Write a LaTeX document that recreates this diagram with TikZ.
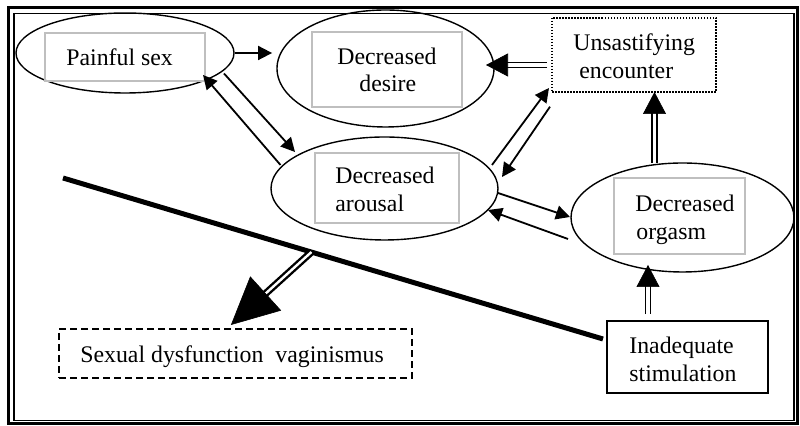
\documentclass[tikz,border=0pt]{standalone}
\usepackage{fontspec}
\setmainfont{Liberation Serif}
\usetikzlibrary{arrows.meta,calc,shapes.geometric}
\begin{document}
\begin{tikzpicture}[x=0.5pt,y=-0.5pt,
  ell/.style={ellipse, draw, line width=0.7pt, inner sep=0pt},
  grayb/.style={rectangle, draw=black!25, line width=0.6pt, inner sep=0pt},
  txt/.style={anchor=base west, inner sep=0pt, font=\fontsize{11.9}{14}\selectfont},
  sarrow/.style={line width=0.9pt, -{Triangle[length=7pt,width=7pt]}},
  dshaft/.style={double, line width=0.75pt, double distance=1.75pt, shorten >=9.5pt},
  dtip/.style={white, line width=0.3pt, -{Triangle[length=11pt,width=11.5pt,color=black]}},
  bshaft/.style={double, line width=1.2pt, double distance=1.2pt, shorten >=21pt},
  btip/.style={white, line width=0.3pt, -{Triangle[length=23.5pt,width=23pt,color=black]}}
]
\useasboundingbox (0,0) rectangle (800,426);
% frame
\draw[line width=1.5pt] (8.8,7.3) rectangle (797.3,424);
\draw[line width=0.7pt] (14,13.3) rectangle (794,420.5);

% ellipses
\node[ell, minimum width=109pt, minimum height=40pt] (ps) at (125,53) {};
\node[ell, minimum width=108.5pt, minimum height=58.5pt] (de) at (385.5,68.5) {};
\node[ell, minimum width=113.5pt, minimum height=51.5pt] (ar) at (384.5,188.5) {};
\node[ell, minimum width=111.5pt, minimum height=54.5pt] (or) at (682.5,217.5) {};

% gray inner boxes
\node[grayb, minimum width=80pt, minimum height=24pt] (gps) at (125,57) {};
\node[grayb, minimum width=75pt, minimum height=37.5pt] (gde) at (387,69.5) {};
\node[grayb, minimum width=72pt, minimum height=35pt] (gar) at (387,188) {};
\node[grayb, minimum width=65.5pt, minimum height=38pt] (gor) at (679.5,216) {};

% boxes
\node[rectangle, draw, line width=0.75pt, dash pattern=on 0.75pt off 0.75pt, inner sep=0pt,
      minimum width=82pt, minimum height=37pt] (en) at (634,55) {};
\node[rectangle, draw, line width=0.8pt, inner sep=0pt,
      minimum width=80.5pt, minimum height=36pt] (in) at (687.5,357) {};
\node[rectangle, draw, line width=1pt, dash pattern=on 3.5pt off 2pt, inner sep=0pt,
      minimum width=176.5pt, minimum height=24.5pt] (sd) at (235.5,353.5) {};

% texts
\node[txt] (tps) at (66,65.5) {Painful sex};
\node[txt] (tde1) at (337,65) {Decreased};
\node[txt] (tde2) at (359,92) {desire};
\node[txt] (ten1) at (573,50.5) {Unsastifying};
\node[txt] (ten2) at (579,79) {encounter};
\node[txt] (tar1) at (335,184) {Decreased};
\node[txt] (tar2) at (335,212) {arousal};
\node[txt] (tor1) at (635,212) {Decreased};
\node[txt] (tor2) at (636,240) {orgasm};
\node[txt] (tin1) at (629,354) {Inadequate};
\node[txt] (tin2) at (629,382) {stimulation};
\node[txt] (tsd) at (80,363) {Sexual dysfunction\ \ vaginismus};

% thick line
\coordinate (l1) at (63,178);
\coordinate (l2) at (603,339);
\draw[line width=2.5pt] (l1) -- (l2);

% single arrows
\draw[sarrow, shorten >=2.1pt] (ps.east) -- (ps.east -| de.west);
\draw[sarrow] ($(ps)+(99,20.5)$) -- ($(ar)+(-89.5,-36.5)$);
\draw[sarrow] ($(ar)+(-104,-23.5)$) -- ($(ps)+(78,22)$);
\draw[sarrow] ($(ar)+(107.5,-23.5)$) -- ($(en)+(-85,33)$);
\draw[sarrow] ($(en)+(-84,51.7)$) -- ($(ar)+(117.5,-11.5)$);
\draw[sarrow] ($(ar)+(113.5,4.5)$) -- ($(or)+(-112.5,-0.5)$);
\draw[sarrow] ($(or)+(-114.5,21.5)$) -- ($(ar)+(103.5,21.5)$);

% double arrows
\draw[dshaft] ($(en)+(-87,10)$) -- ($(de)+(100.5,-3.5)$);
\draw[dtip]   ($(en)+(-87,10)$) -- ($(de)+(100.5,-3.5)$);
\draw[dshaft] ($(or)+(-28,-54.5)$) -- ($(en)+(20.5,37)$);
\draw[dtip]   ($(or)+(-28,-54.5)$) -- ($(en)+(20.5,37)$);
\draw[dshaft] ($(in.north)+(-39.5,-6)$) -- ($(or)+(-34.5,47.5)$);
\draw[dtip]   ($(in.north)+(-39.5,-6)$) -- ($(or)+(-34.5,47.5)$);

% big arrow
\coordinate (bs) at ($(l1)!0.46!(l2)$);
\coordinate (be) at ($(sd.north west)!0.487!(sd.north east)$);
\draw[bshaft] (bs) -- ($(be)+(0,-3)$);
\draw[btip]   (bs) -- ($(be)+(0,-3)$);
\end{tikzpicture}
\end{document}
